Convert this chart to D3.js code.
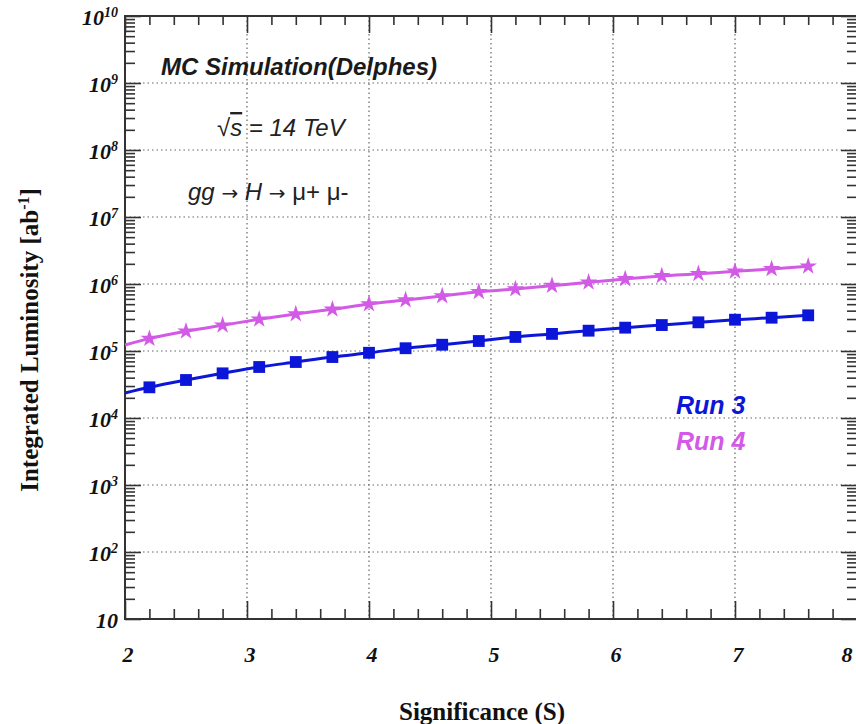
<!DOCTYPE html>
<html>
<head>
<meta charset="utf-8">
<style>
    body { margin: 0; background: #fff; }
    svg { display: block; }
    .grid line { stroke: #666; stroke-width: 1.2; stroke-dasharray: 1.5 3; }
    .frame { fill: none; stroke: #333; stroke-width: 2; }
    .ticks path { display: none; }
    .ticks line { stroke: #333; stroke-width: 1.6; }
    .ylab { font-family: 'Liberation Serif', serif; font-weight: bold; font-style: italic; font-size: 22px; fill: #111; }
    .xlab { font-family: 'Liberation Serif', serif; font-weight: bold; font-style: italic; font-size: 22px; fill: #111; }
    .title { font-family: 'Liberation Serif', serif; font-weight: bold; font-size: 25px; fill: #111; }
    .note { font-family: 'Liberation Sans', Arial, sans-serif; font-style: italic; font-size: 24px; fill: #222; }
</style>
</head>
<body>
<svg width="856" height="724"></svg>

<script src="https://d3js.org/d3.v7.min.js"></script>
<script>
    //------------------------ DATA ------------------------//
    // significance values (markers start at 2.2, line starts at the frame, x = 2)
    let significance = [2.0, 2.2, 2.5, 2.8, 3.1, 3.4, 3.7, 4.0, 4.3, 4.6, 4.9,
                        5.2, 5.5, 5.8, 6.1, 6.4, 6.7, 7.0, 7.3, 7.6];
    // Run 3 integrated luminosity
    let run3 = [2.36e4, 2.87e4, 3.69e4, 4.64e4, 5.77e4, 6.85e4, 8.13e4, 9.4e4, 1.10e5, 1.24e5, 1.41e5,
                1.62e5, 1.80e5, 2.01e5, 2.23e5, 2.44e5, 2.68e5, 2.93e5, 3.14e5, 3.41e5];
    // Run 4 integrated luminosity
    let run4 = [1.23e5, 1.53e5, 1.97e5, 2.42e5, 2.97e5, 3.57e5, 4.19e5, 5.02e5, 5.77e5, 6.62e5, 7.67e5,
                8.41e5, 9.44e5, 1.06e6, 1.19e6, 1.32e6, 1.42e6, 1.55e6, 1.68e6, 1.84e6];

    let xTicks = [2, 3, 4, 5, 6, 7, 8];
    let yExponents = [1, 2, 3, 4, 5, 6, 7, 8, 9, 10];

    //------------------------ SETUP ------------------------//
    let svg = d3.select("svg");
    let blue = "#0c16d8";
    let violet = "#d35ae6";

    let x = d3.scaleLinear().domain([2, 8]).range([125, 857]);
    let y = d3.scaleLog().domain([10, 1e10]).range([619, 16]);

    // minor tick values
    let xMinor = d3.range(2, 8.001, 0.2).filter(v => Math.abs(v - Math.round(v)) > 0.01);
    let yMinor = [];
    yExponents.slice(0, -1).forEach(e => {
        for (let k = 2; k <= 9; k++) yMinor.push(k * Math.pow(10, e));
    });
    let yMajor = yExponents.map(e => Math.pow(10, e));

    //------------------------ GRID ------------------------//
    let grid = svg.append("g").attr("class", "grid");
    grid.selectAll(".gx")
        .data(xTicks.slice(1, -1))
        .join("line")
        .attr("x1", d => x(d)).attr("x2", d => x(d))
        .attr("y1", y(1e10)).attr("y2", y(10));
    grid.selectAll(".gy")
        .data(yMajor.slice(1, -1))
        .join("line")
        .attr("x1", x(2)).attr("x2", x(8))
        .attr("y1", d => y(d)).attr("y2", d => y(d));

    //------------------------ TICKS ------------------------//
    function addAxis(axis, tf) {
        svg.append("g").attr("class", "ticks")
            .attr("transform", tf)
            .call(axis)
            .selectAll("text").remove();
    }
    // bottom and top
    addAxis(d3.axisBottom(x).tickValues(xTicks).tickSize(-18), `translate(0,${y(10)})`);
    addAxis(d3.axisBottom(x).tickValues(xMinor).tickSize(-10), `translate(0,${y(10)})`);
    addAxis(d3.axisTop(x).tickValues(xTicks).tickSize(-17), `translate(0,${y(1e10)})`);
    addAxis(d3.axisTop(x).tickValues(xMinor).tickSize(-9), `translate(0,${y(1e10)})`);
    // left and right
    addAxis(d3.axisLeft(y).tickValues(yMajor).tickSize(-16), `translate(${x(2)},0)`);
    addAxis(d3.axisLeft(y).tickValues(yMinor).tickSize(-10), `translate(${x(2)},0)`);
    addAxis(d3.axisRight(y).tickValues(yMajor).tickSize(-16), `translate(${x(8)},0)`);
    addAxis(d3.axisRight(y).tickValues(yMinor).tickSize(-10), `translate(${x(8)},0)`);

    // frame
    svg.append("rect").attr("class", "frame")
        .attr("x", x(2)).attr("y", y(1e10))
        .attr("width", x(8) - x(2)).attr("height", y(10) - y(1e10));

    //------------------------ LABELS ------------------------//
    let ylabs = svg.append("g").selectAll("text")
        .data(yExponents)
        .join("text")
        .attr("class", "ylab")
        .attr("text-anchor", "end")
        .attr("x", 118)
        .attr("y", d => y(Math.pow(10, d)) + 9);
    ylabs.append("tspan").text("10");
    ylabs.filter(d => d > 1).append("tspan")
        .attr("font-size", 14).attr("dy", -8)
        .text(d => d);

    svg.append("g").selectAll("text")
        .data(xTicks)
        .join("text")
        .attr("class", "xlab")
        .attr("text-anchor", "middle")
        .attr("x", d => Math.min(x(d) + 3, 847))
        .attr("y", 662)
        .text(d => d);

    svg.append("text").attr("class", "title")
        .attr("x", 482).attr("y", 720)
        .attr("text-anchor", "middle")
        .text("Significance (S)");

    let ytitle = svg.append("text").attr("class", "title")
        .attr("transform", "translate(38,340) rotate(-90)")
        .attr("text-anchor", "middle");
    ytitle.append("tspan").text("Integrated Luminosity [ab");
    ytitle.append("tspan").attr("font-size", 16).attr("dy", -9).text("-1");
    ytitle.append("tspan").attr("dy", 9).text("]");

    //------------------------ CURVES ------------------------//
    let line = d3.line()
        .x((d, i) => x(significance[i]))
        .y(d => y(d))
        .curve(d3.curveMonotoneX);

    svg.append("path").attr("d", line(run4))
        .attr("fill", "none").attr("stroke", violet).attr("stroke-width", 3);
    svg.append("path").attr("d", line(run3))
        .attr("fill", "none").attr("stroke", blue).attr("stroke-width", 3);

    let star = d3.symbol().type(d3.symbolStar).size(95);
    let square = d3.symbol().type(d3.symbolSquare).size(140);

    svg.append("g").selectAll("path")
        .data(run4.slice(1))
        .join("path")
        .attr("d", star)
        .attr("transform", (d, i) => `translate(${x(significance[i + 1])},${y(d)})`)
        .attr("fill", violet);

    svg.append("g").selectAll("path")
        .data(run3.slice(1))
        .join("path")
        .attr("d", square)
        .attr("transform", (d, i) => `translate(${x(significance[i + 1])},${y(d)})`)
        .attr("fill", blue);

    //------------------------ TEXT NOTES ------------------------//
    svg.append("text").attr("class", "note")
        .attr("x", 161).attr("y", 75)
        .style("font-weight", "bold").style("font-size", "24px").style("fill", "#1a1a1a")
        .text("MC Simulation(Delphes)");

    let sq = svg.append("text").attr("class", "note")
        .attr("x", 217).attr("y", 136);
    sq.append("tspan").style("font-style", "normal").text("√");
    sq.append("tspan").style("text-decoration", "overline").text("s");
    sq.append("tspan").text(" = 14 TeV");

    let proc = svg.append("text").attr("class", "note")
        .attr("x", 188).attr("y", 200);
    proc.append("tspan").text("gg ");
    proc.append("tspan").style("font-family", "'DejaVu Sans'").style("font-style", "normal").style("font-size", "20px").text("\u2192");
    proc.append("tspan").text(" H ");
    proc.append("tspan").style("font-family", "'DejaVu Sans'").style("font-style", "normal").style("font-size", "20px").text("\u2192");
    proc.append("tspan").style("font-style", "normal").text("  \u03bc+ \u03bc-");

    svg.append("text").attr("class", "note")
        .attr("x", 676).attr("y", 414)
        .style("font-weight", "bold").style("font-size", "25px").style("fill", blue)
        .text("Run 3");
    svg.append("text").attr("class", "note")
        .attr("x", 676).attr("y", 450)
        .style("font-weight", "bold").style("font-size", "25px").style("fill", violet)
        .text("Run 4");
</script>
</body>
</html>
